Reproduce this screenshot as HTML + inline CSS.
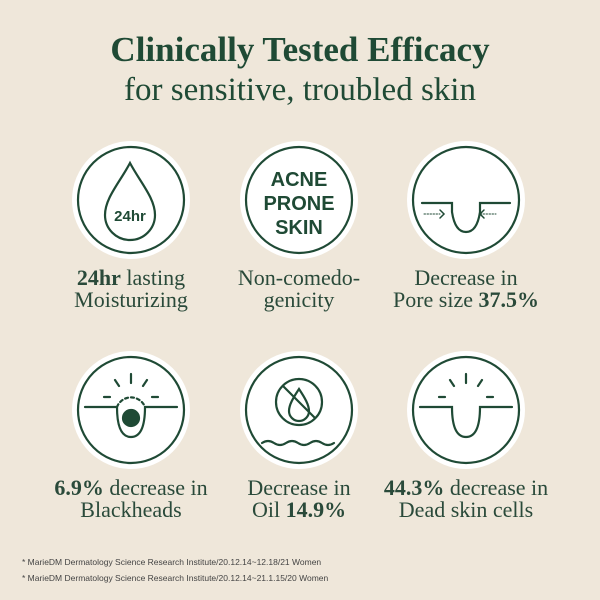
<!DOCTYPE html>
<html><head><meta charset="utf-8"><style>
body{margin:0;width:600px;height:600px;background:#efe7da;overflow:hidden;position:relative;font-family:"Liberation Serif",serif;color:#1f4a35}
.t{position:absolute;left:0;width:600px;text-align:center}
.lab{position:absolute;width:200px;text-align:center;font-size:22px;line-height:22px;color:#2a4a3a}
.fn{position:absolute;left:22px;font-family:"Liberation Sans",sans-serif;font-size:8.5px;color:#444}
</style></head><body>
<div class="t" style="top:30px;font-size:35px;font-weight:bold">Clinically Tested Efficacy</div>
<div class="t" style="top:72px;font-size:33px">for sensitive, troubled skin</div>
<svg width="600" height="600" style="position:absolute;left:0;top:0" fill="none" stroke="#1f4a35" stroke-width="2.2" stroke-linecap="round">
<g fill="#fff" stroke="none"><circle cx="131" cy="200" r="59"/><circle cx="299" cy="200" r="59"/><circle cx="466" cy="200" r="59"/><circle cx="131" cy="410" r="59"/><circle cx="299" cy="410" r="59"/><circle cx="466" cy="410" r="59"/></g>
<circle cx="131" cy="200" r="53"/><circle cx="299" cy="200" r="53"/><circle cx="466" cy="200" r="53"/><circle cx="131" cy="410" r="53"/><circle cx="299" cy="410" r="53"/><circle cx="466" cy="410" r="53"/>
<path d="M130 163 C120 182 105 198 105 215 A25 25 0 0 0 155 215 C155 198 140 182 130 163Z"/>
<text x="130" y="221" font-family="Liberation Sans" font-weight="bold" font-size="15" fill="#1f4a35" stroke="none" text-anchor="middle">24hr</text>
<g font-family="Liberation Sans" font-weight="bold" font-size="20" fill="#1f4a35" stroke="none" text-anchor="middle"><text x="299" y="186">ACNE</text><text x="299" y="210">PRONE</text><text x="299" y="234">SKIN</text></g>
<path d="M422 203 H452 V212 Q455 232 466 232 Q477 232 480 212 V203 H510"/>
<path d="M424 214 H440 M480 214 H496" stroke-width="1" stroke-dasharray="1.5 1.5"/>
<path d="M440 210 L444 214 L440 218 M484 210 L480 214 L484 218" stroke-width="1.5"/>
<path d="M85 407 H117 Q117 437 131 437 Q145 437 145 407 H177"/>
<path d="M117 407 A15 15 0 0 1 145 407" stroke-dasharray="3 3"/>
<path d="M131 374 V383 M115 380 L119 386 M147 380 L143 386 M104 397 H110 M152 397 H158"/>
<circle cx="131" cy="418" r="8" fill="#1f4a35"/>
<circle cx="299" cy="402" r="23"/>
<path d="M299 389 C293 398 289 405 289 411 A10 10 0 0 0 309 411 C309 405 305 398 299 389Z"/>
<path d="M283 386 L315 418"/>
<path d="M262 443 q6 -4 12 0 t12 0 t12 0 t12 0 t12 0 t12 0"/>
<path d="M420 407 H452 Q452 437 466 437 Q480 437 480 407 H512"/>
<path d="M466 374 V383 M450 380 L454 386 M482 380 L478 386 M439 397 H445 M487 397 H493"/>
</svg>
<div class="lab" style="left:31px;top:267px"><b>24hr</b> lasting<br>Moisturizing</div>
<div class="lab" style="left:199px;top:267px">Non-comedo-<br>genicity</div>
<div class="lab" style="left:366px;top:267px">Decrease in<br>Pore size <b>37.5%</b></div>
<div class="lab" style="left:31px;top:477px"><b>6.9%</b> decrease in<br>Blackheads</div>
<div class="lab" style="left:199px;top:477px">Decrease in<br>Oil <b>14.9%</b></div>
<div class="lab" style="left:366px;top:477px"><b>44.3%</b> decrease in<br>Dead skin cells</div>
<div class="fn" style="top:557px">* MarieDM Dermatology Science Research Institute/20.12.14~12.18/21 Women</div>
<div class="fn" style="top:573px">* MarieDM Dermatology Science Research Institute/20.12.14~21.1.15/20 Women</div>
</body></html>
